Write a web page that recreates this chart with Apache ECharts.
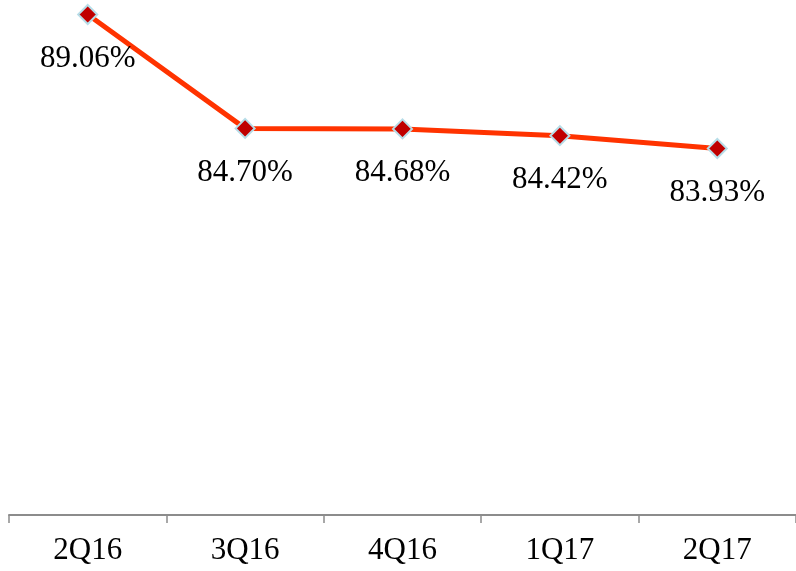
<!DOCTYPE html>
<html>
<head>
<meta charset="utf-8">
<script src="https://cdn.jsdelivr.net/npm/echarts@6/dist/echarts.min.js"></script>
<style>
  html, body { margin: 0; padding: 0; background: #fff; }
  #chart { width: 796px; height: 571px; }
</style>
</head>
<body>
<div id="chart"></div>
<script>
const quarters = ["2Q16", "3Q16", "4Q16", "1Q17", "2Q17"];
const ratio = [89.06, 84.70, 84.68, 84.42, 83.93];

const font = "'Liberation Serif', 'Times New Roman', serif";

const chart = echarts.init(document.getElementById("chart"));
chart.setOption({
  animation: false,
  grid: { left: 9, right: -3, top: 3, bottom: 56 },
  xAxis: {
    type: "category",
    data: quarters,
    boundaryGap: true,
    axisLine: { lineStyle: { color: "#8c8c8c", width: 2 } },
    axisTick: { show: true, alignWithLabel: false, length: 8, lineStyle: { color: "#8c8c8c", width: 1.5 } },
    axisLabel: { fontFamily: font, fontSize: 31, color: "#000", margin: 20 }
  },
  yAxis: {
    type: "value",
    min: 69.9,
    max: 89.5,
    show: false,
    splitLine: { show: false }
  },
  series: [{
    type: "line",
    data: ratio,
    symbol: "diamond",
    symbolSize: 19,
    itemStyle: { color: "#c00000", borderColor: "#b7dde8", borderWidth: 2 },
    lineStyle: { color: "#ff3300", width: 5 },
    label: {
      show: true,
      position: "bottom",
      distance: 18,
      fontFamily: font,
      fontSize: 31,
      color: "#000",
      formatter: (p) => p.value.toFixed(2) + "%"
    }
  }]
});
</script>
</body>
</html>
